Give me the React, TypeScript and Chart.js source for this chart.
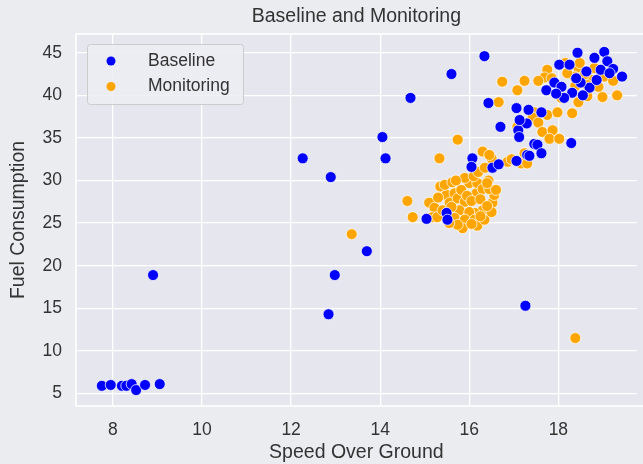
import React, { useEffect, useRef } from "react";
import { Chart, registerables } from "chart.js";

Chart.register(...registerables);

const title = "Baseline and Monitoring";
const xLabel = "Speed Over Ground";
const yLabel = "Fuel Consumption";
const xTicks = [8, 10, 12, 14, 16, 18];
const yTicks = [5, 10, 15, 20, 25, 30, 35, 40, 45];

const baselineX = [
  7.75, 7.95, 8.2, 8.3, 8.42, 8.52, 8.72, 9.05,
  8.9, 12.26, 12.89, 12.84, 12.98, 13.7, 14.05, 14.12, 14.68, 15.6, 16.34, 17.26,
  15.04, 15.49, 15.51, 16.07, 16.05, 16.52, 16.66, 17.06, 17.3, 16.43, 16.7, 17.06, 17.33, 17.1, 17.12,
  17.46, 17.62, 17.29, 17.13, 17.53, 17.62, 17.35, 18.29,
  18.43, 19.03, 18.81, 19.1, 19.23, 19.43, 18.02, 18.25, 18.63, 17.91, 17.73, 18.07, 18.31, 18.13,
  18.7, 18.86, 18.5, 18.55, 18.95, 19.15, 18.4, 17.95,
];
const baselineY = [
  5.9, 6.0, 5.9, 5.9, 6.1, 5.4, 6.0, 6.1,
  18.9, 32.6, 30.4, 14.3, 18.9, 21.7, 35.1, 32.6, 39.7, 42.5, 44.6, 15.3,
  25.5, 26.2, 25.4, 32.6, 31.6, 31.5, 31.9, 32.3, 33.0, 39.1, 36.3, 38.5, 38.3, 35.9, 35.1,
  34.3, 38.0, 36.7, 37.1, 34.2, 33.2, 32.9, 34.4,
  45.0, 45.1, 44.4, 44.0, 43.1, 42.2, 43.6, 43.6, 42.8, 41.5, 40.6, 41.0, 40.3, 39.7,
  40.9, 41.8, 41.5, 40.0, 43.0, 42.6, 42.0, 40.2,
];

const monitoringX = [
  13.36, 18.38, 15.33, 15.74, 14.61, 14.73,
  15.1, 15.22, 15.35, 15.49, 15.56, 15.67, 15.74, 15.9, 15.78, 16.0, 16.16, 16.18, 16.3, 16.43,
  16.52, 16.56, 16.3, 16.12, 16.0, 15.67, 15.9, 16.12, 16.18, 15.85, 15.74, 16.34, 16.5, 15.17,
  15.28, 15.4, 15.6, 15.82, 15.95, 16.05, 16.25, 16.4, 15.45, 15.62, 15.9, 16.1, 16.45, 16.6,
  15.55, 16.05, 16.25, 15.3, 15.7, 16.2, 16.35, 16.5, 16.3, 16.45, 16.86, 17.17, 17.3, 17.24,
  16.95, 16.4,
  18.16, 18.45, 18.48, 18.81, 17.75, 17.69, 17.55, 16.74, 17.24, 17.08, 18.36, 18.48, 18.74,
  19.03, 19.23, 18.38, 18.65, 18.07, 18.45, 18.65, 18.99, 19.32, 16.66, 17.46, 17.42, 17.55,
  17.75, 17.98, 18.31, 17.08, 17.64, 17.87, 17.8, 18.02, 17.24, 18.6, 18.2, 17.85, 18.9,
];
const monitoringY = [
  23.7, 11.5, 32.6, 34.8, 27.6, 25.7,
  27.4, 26.8, 29.3, 28.3, 27.4, 28.5, 27.9, 27.5, 26.5, 29.7, 28.5, 29.7, 29.0, 30.0,
  27.4, 28.3, 26.5, 26.2, 26.3, 25.6, 25.4, 25.4, 24.7, 24.4, 24.8, 25.4, 26.3, 25.7,
  25.7, 26.5, 26.9, 28.9, 28.2, 27.6, 27.8, 27.0, 29.5, 29.8, 30.3, 30.5, 29.0, 28.9,
  25.0, 24.9, 25.8, 28.0, 30.0, 31.0, 31.5, 32.6, 33.4, 33.0, 32.2, 32.0, 32.0, 33.2,
  32.5, 29.7,
  43.8, 43.2, 43.8, 43.2, 43.0, 42.1, 41.7, 41.6, 41.7, 40.6, 42.2, 42.0, 41.8,
  42.2, 41.7, 41.1, 41.2, 39.7, 39.2, 39.9, 39.8, 40.0, 39.2, 38.0, 37.4, 36.8,
  37.7, 38.0, 37.9, 36.3, 35.7, 35.9, 34.9, 34.9, 33.2, 42.5, 42.6, 42.0, 41.0,
];

const FIG_BG = "#eaecef";
const AX_BG = "#e6e6ef";
const TEXT = "#333333";
const FONT = "'Liberation Sans', Arial, sans-serif";

const toPoints = (xs: number[], ys: number[]) => xs.map((x, i) => ({ x, y: ys[i] }));

const bgPlugin = {
  id: "bgPlugin",
  beforeDraw(chart: any) {
    const { ctx, chartArea: a } = chart;
    ctx.save();
    ctx.fillStyle = FIG_BG;
    ctx.fillRect(0, 0, chart.width, chart.height);
    ctx.fillStyle = AX_BG;
    ctx.fillRect(a.left, a.top, chart.width - a.left, a.bottom - a.top);
    ctx.restore();
  },
  afterDraw(chart: any) {
    const { ctx, chartArea: a } = chart;
    ctx.save();
    ctx.strokeStyle = "#ffffff";
    ctx.lineWidth = 1.6;
    ctx.strokeRect(a.left, a.top, chart.width - a.left + 4, a.bottom - a.top);
    // legend
    const x0 = a.left + 11;
    const y0 = a.top + 10;
    const w = 156;
    const h = 60;
    ctx.fillStyle = "rgba(236,236,243,0.85)";
    ctx.strokeStyle = "#cccccc";
    ctx.lineWidth = 1;
    ctx.beginPath();
    (ctx as any).roundRect(x0 + 0.5, y0 + 0.5, w, h, 3);
    ctx.fill();
    ctx.stroke();
    chart.data.datasets.forEach((ds: any, i: number) => {
      const cy = y0 + 17 + i * 25.5;
      ctx.beginPath();
      ctx.fillStyle = ds.backgroundColor;
      ctx.arc(x0 + 24, cy, 4.5, 0, Math.PI * 2);
      ctx.fill();
      ctx.fillStyle = TEXT;
      ctx.font = `17.5px ${FONT}`;
      ctx.textBaseline = "middle";
      ctx.textAlign = "left";
      ctx.fillText(ds.label, x0 + 61, cy);
    });
    ctx.restore();
  },
};

export default function App() {
  const ref = useRef<HTMLCanvasElement | null>(null);
  useEffect(() => {
    document.body.style.margin = "0";
    const chart = new Chart(ref.current as HTMLCanvasElement, {
      type: "scatter",
      data: {
        datasets: [
          {
            label: "Baseline",
            data: toPoints(baselineX, baselineY),
            backgroundColor: "#0000ff",
            borderColor: "#ffffff",
            borderWidth: 0.75,
            pointRadius: 5.5,
          },
          {
            label: "Monitoring",
            data: toPoints(monitoringX, monitoringY),
            backgroundColor: "#ffa500",
            borderColor: "#ffffff",
            borderWidth: 0.75,
            pointRadius: 5.5,
          },
        ],
      },
      options: {
        animation: false,
        responsive: false,
        maintainAspectRatio: false,
        layout: { padding: 0 },
        plugins: {
          legend: { display: false },
          tooltip: { enabled: false },
          title: {
            display: true,
            text: title,
            fullSize: false,
            color: TEXT,
            font: { family: FONT, size: 19.5, weight: "normal", lineHeight: 1.2 },
            padding: { top: 5, bottom: 5.6 },
          },
        },
        scales: {
          x: {
            type: "linear",
            min: 7.17,
            max: 19.76,
            afterBuildTicks: (s: any) => {
              s.ticks = xTicks.map((v) => ({ value: v }));
            },
            afterFit: (s: any) => {
              s.height = 58;
            },
            grid: { color: "#ffffff", lineWidth: 1.3, drawTicks: false },
            border: { display: false },
            ticks: {
              color: TEXT,
              font: { family: FONT, size: 17.5 },
              padding: 14,
              maxRotation: 0,
            },
            title: {
              display: true,
              text: xLabel,
              color: TEXT,
              font: { family: FONT, size: 19.5, lineHeight: 1.2 },
              padding: { top: 0, bottom: 0 },
            },
          },
          y: {
            type: "linear",
            min: 3.53,
            max: 47.2,
            afterBuildTicks: (s: any) => {
              s.ticks = yTicks.map((v) => ({ value: v }));
            },
            afterFit: (s: any) => {
              s.width = 76;
            },
            grid: { color: "#ffffff", lineWidth: 1.3, drawTicks: false },
            border: { display: false },
            ticks: {
              color: TEXT,
              font: { family: FONT, size: 17.5 },
              padding: 14,
            },
            title: {
              display: true,
              text: yLabel,
              color: TEXT,
              font: { family: FONT, size: 19.5, lineHeight: 1.2 },
              padding: { top: 6.5, bottom: 0 },
            },
          },
        },
      },
      plugins: [bgPlugin],
    } as any);
    return () => chart.destroy();
  }, []);
  return (
    <div style={{ position: "fixed", left: 0, top: 0, width: 643, height: 464 }}>
      <canvas ref={ref} width={643} height={464} style={{ width: 643, height: 464 }} />
    </div>
  );
}
